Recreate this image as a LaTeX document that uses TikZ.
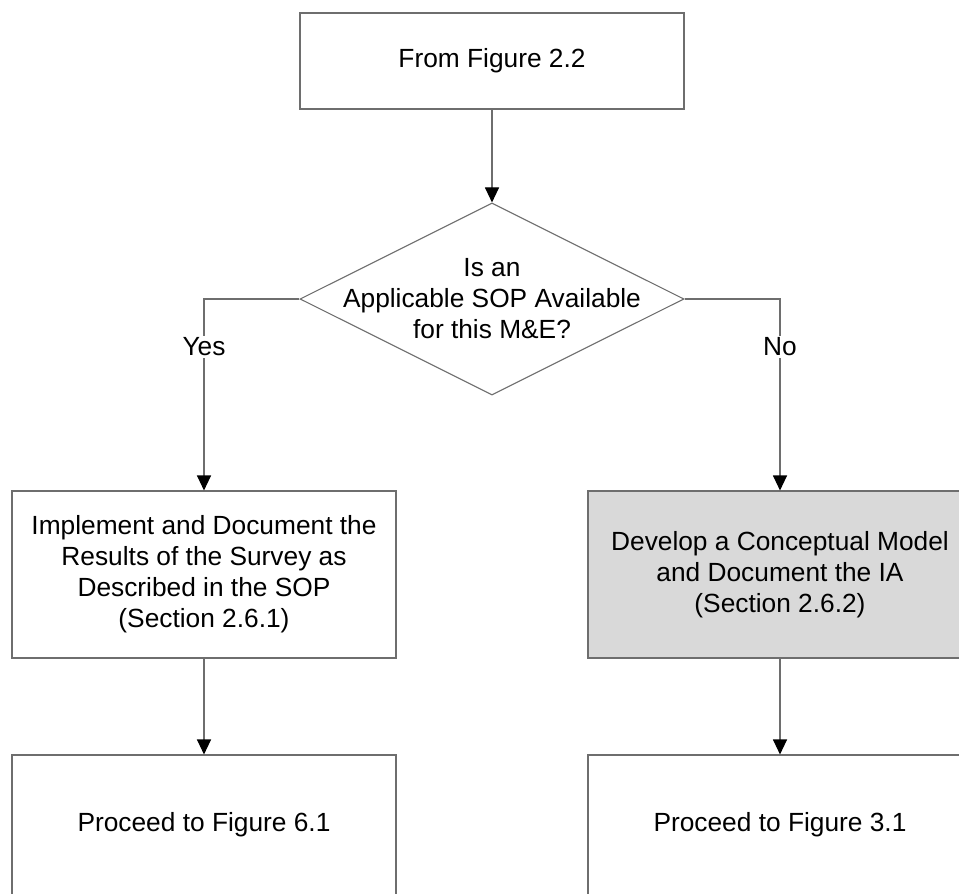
\documentclass[tikz,border=0pt]{standalone}
\usepackage{fontspec}
\setmainfont{Liberation Sans}
\usetikzlibrary{shapes.geometric,arrows.meta}
\definecolor{linegray}{RGB}{110,110,110}
\definecolor{boxgray}{RGB}{217,217,217}
\tikzset{
  box/.style={draw=linegray, line width=1.1pt, minimum width=384pt, inner sep=0pt, align=center},
  decision/.style={diamond, draw=linegray, line width=1.1pt, minimum width=384pt, minimum height=192pt, inner sep=0pt},
  flow/.style={draw=linegray, line width=1.1pt, -{Triangle[width=14pt,length=15pt,color=black]}},
  answer/.style={fill=white, inner sep=2pt}
}
\begin{document}
\begin{tikzpicture}
  [x=1pt, y=-1pt, font=\fontsize{26.3}{31}\selectfont]
  \useasboundingbox (0,0) rectangle (959,894);
  \clip (0,0) rectangle (959,894);
  \node[box, minimum height=96pt] (start) at (492,61) {From Figure 2.2};
  \node[decision] (query) at (492,299) {};
  \node[align=center, inner sep=0pt] (querytext) at (query) {Is an\\Applicable SOP Available\\for this M\&E?};
  \node[box, minimum height=167pt] (survey) at (204,574.5) {Implement and Document the\\Results of the Survey as\\Described in the SOP\\(Section 2.6.1)};
  \node[box, fill=boxgray, minimum height=167pt] (model) at (780,574.5) {Develop a Conceptual Model\\and Document the IA\\(Section 2.6.2)};
  \node[box, minimum height=140pt] (fig61) at (204,825) {Proceed to Figure 6.1};
  \node[box, minimum height=140pt] (fig31) at (780,825) {Proceed to Figure 3.1};
  \draw[flow] (start) -- (query);
  \draw[flow] (query.west) -| node[answer, pos=0.625] (yes) {Yes} (survey);
  \draw[flow] (query.east) -| node[answer, pos=0.625] (no) {No} (model);
  \draw[flow] (survey) -- (fig61);
  \draw[flow] (model) -- (fig31);
\end{tikzpicture}
\end{document}
